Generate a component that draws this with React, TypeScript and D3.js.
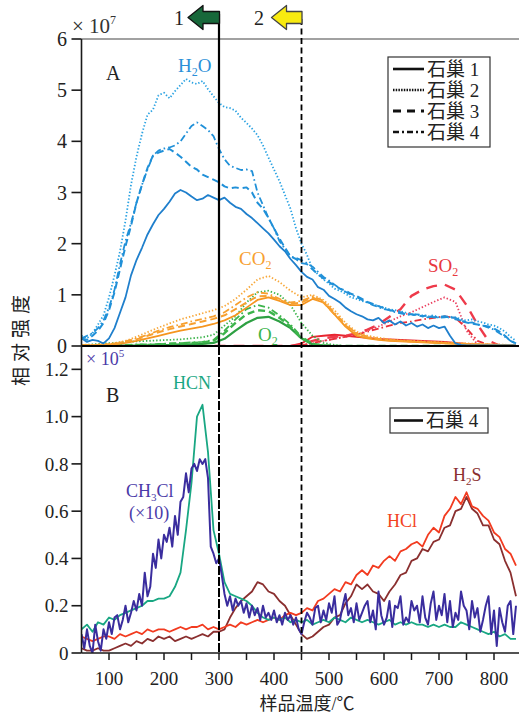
import React from "react";
import * as d3 from "d3";

// ---------- temperature grids (°C) ----------
const T10: number[] = d3.range(50, 850, 10); // 50..840
const T20: number[] = [...d3.range(50, 840, 20), 840]; // 50..830, 840
const T5: number[] = d3.range(50, 845, 5); // 50..840

// ---------- Panel A (×10^7) ----------
const H2O_1 = [
  0.15, 0.08, 0.12, 0.10, 0.05, 0.15, 0.35, 0.65, 0.95, 1.38,
  1.68, 1.92, 2.18, 2.38, 2.56, 2.68, 2.82, 2.98, 3.05, 3.00,
  2.92, 2.85, 2.88, 2.95, 2.90, 2.85, 2.90, 2.80, 2.72, 2.68,
  2.58, 2.50, 2.40, 2.30, 2.20, 2.08, 1.95, 1.85, 1.70, 1.58,
  1.45, 1.35, 1.30, 1.15, 1.10, 0.98, 0.92, 0.85, 0.75, 0.68,
  0.62, 0.58, 0.52, 0.50, 0.55, 0.45, 0.50, 0.42, 0.48, 0.40,
  0.45, 0.38, 0.42, 0.35, 0.40, 0.35, 0.38, 0.20, 0.05, 0.02,
  0.01, 0.01, 0.01, 0.01, 0.01, 0.01, 0.01, 0.01, 0.01, 0.01,
];
const H2O_2 = [
  0.20, 0.15, 0.25, 0.42, 0.60, 0.95, 1.38, 1.85, 2.45, 3.15,
  3.70, 4.15, 4.52, 4.62, 4.90, 4.95, 4.84, 4.98, 5.10, 5.22,
  5.15, 5.12, 5.18, 5.02, 4.88, 4.75, 4.67, 4.65, 4.60, 4.46,
  4.36, 4.25, 4.12, 3.92, 3.68, 3.45, 3.22, 2.95, 2.68, 2.30,
  2.00, 1.78, 1.50, 1.40, 1.30, 1.22, 1.12, 1.08, 1.02, 0.95,
  0.92, 0.88, 0.85, 0.82, 0.78, 0.75, 0.72, 0.70, 0.68, 0.65,
  0.62, 0.62, 0.60, 0.58, 0.60, 0.56, 0.58, 0.55, 0.56, 0.52,
  0.50, 0.52, 0.48, 0.46, 0.42, 0.40, 0.35, 0.28, 0.18, 0.10,
];
const H2O_3 = [
  0.15, 0.12, 0.20, 0.30, 0.45, 0.70, 1.05, 1.50, 1.95, 2.35,
  2.80, 3.15, 3.48, 3.72, 3.78, 3.82, 3.85, 3.78, 3.70, 3.60,
  3.50, 3.45, 3.35, 3.30, 3.25, 3.20, 3.12, 3.08, 3.10, 3.08,
  3.10, 3.00, 2.80, 2.68, 2.50, 2.30, 2.10, 1.92, 1.75, 1.70,
  1.62, 1.60, 1.50, 1.40, 1.32, 1.25, 1.18, 1.12, 1.08, 1.02,
  0.98, 0.92, 0.86, 0.82, 0.78, 0.74, 0.70, 0.68, 0.66, 0.62,
  0.62, 0.60, 0.58, 0.60, 0.56, 0.57, 0.58, 0.56, 0.55, 0.50,
  0.46, 0.44, 0.42, 0.40, 0.38, 0.34, 0.28, 0.20, 0.10, 0.05,
];
const H2O_4 = [
  0.15, 0.20, 0.25, 0.35, 0.50, 0.75, 1.10, 1.60, 2.05, 2.40,
  2.80, 3.15, 3.45, 3.72, 3.82, 3.86, 3.88, 3.92, 4.00, 4.15,
  4.30, 4.37, 4.30, 4.22, 4.10, 3.85, 3.65, 3.52, 3.48, 3.44,
  3.45, 3.42, 3.00, 2.75, 2.50, 2.30, 2.05, 1.90, 1.75, 1.72,
  1.68, 1.62, 1.55, 1.45, 1.35, 1.28, 1.20, 1.12, 1.06, 1.00,
  0.96, 0.90, 0.85, 0.80, 0.76, 0.72, 0.70, 0.66, 0.64, 0.62,
  0.60, 0.62, 0.58, 0.56, 0.58, 0.55, 0.56, 0.58, 0.52, 0.50,
  0.45, 0.46, 0.42, 0.40, 0.36, 0.32, 0.25, 0.18, 0.10, 0.05,
];

const CO2_1 = [
  0.01, 0.01, 0.02, 0.03, 0.06, 0.10, 0.15, 0.20, 0.25, 0.30,
  0.34, 0.38, 0.43, 0.50, 0.60, 0.75, 0.90, 0.95, 0.88, 0.80,
  0.80, 0.92, 0.85, 0.62, 0.38, 0.20, 0.15, 0.12, 0.10, 0.09,
  0.08, 0.07, 0.06, 0.05, 0.04, 0.03, 0.03, 0.02, 0.02, 0.02,
  0.01,
];
const CO2_2 = [
  0.01, 0.02, 0.03, 0.05, 0.10, 0.18, 0.27, 0.36, 0.44, 0.52,
  0.58, 0.64, 0.70, 0.78, 0.92, 1.10, 1.30, 1.37, 1.25, 1.08,
  0.95, 1.00, 0.90, 0.70, 0.45, 0.28, 0.20, 0.16, 0.13, 0.11,
  0.10, 0.09, 0.08, 0.07, 0.06, 0.05, 0.04, 0.03, 0.03, 0.02,
  0.02,
];
const CO2_3 = [
  0.01, 0.01, 0.02, 0.04, 0.08, 0.13, 0.20, 0.27, 0.33, 0.38,
  0.43, 0.48, 0.53, 0.60, 0.72, 0.85, 0.97, 0.98, 0.90, 0.82,
  0.85, 0.95, 0.85, 0.62, 0.40, 0.24, 0.17, 0.13, 0.11, 0.10,
  0.09, 0.08, 0.07, 0.06, 0.05, 0.04, 0.03, 0.03, 0.02, 0.02,
  0.01,
];
const CO2_4 = [
  0.01, 0.02, 0.03, 0.05, 0.09, 0.15, 0.22, 0.30, 0.37, 0.42,
  0.48, 0.53, 0.58, 0.66, 0.80, 0.95, 1.05, 1.02, 0.92, 0.85,
  0.88, 0.97, 0.88, 0.65, 0.42, 0.25, 0.18, 0.14, 0.12, 0.10,
  0.09, 0.08, 0.07, 0.06, 0.05, 0.04, 0.03, 0.03, 0.02, 0.02,
  0.01,
];

const O2_1 = [
  0, 0, 0, 0, 0.01, 0.01, 0.01, 0.02, 0.02, 0.03,
  0.03, 0.04, 0.06, 0.14, 0.30, 0.45, 0.55, 0.57, 0.48, 0.35,
  0.15, 0.03, 0.01, 0, 0, 0, 0, 0, 0, 0,
  0, 0, 0, 0, 0, 0, 0, 0, 0, 0,
  0,
];
const O2_2 = [
  0.02, 0.03, 0.05, 0.06, 0.08, 0.09, 0.10, 0.11, 0.12, 0.13,
  0.15, 0.17, 0.22, 0.40, 0.58, 0.85, 1.05, 1.08, 1.00, 0.80,
  0.45, 0.20, 0.06, 0.02, 0, 0, 0, 0, 0, 0,
  0, 0, 0, 0, 0, 0, 0, 0, 0, 0,
  0,
];
const O2_3 = [
  0, 0, 0, 0.01, 0.01, 0.02, 0.02, 0.03, 0.04, 0.05,
  0.06, 0.07, 0.10, 0.25, 0.45, 0.62, 0.70, 0.68, 0.55, 0.38,
  0.15, 0.04, 0.01, 0, 0, 0, 0, 0, 0, 0,
  0, 0, 0, 0, 0, 0, 0, 0, 0, 0,
  0,
];
const O2_4 = [
  0, 0, 0.01, 0.01, 0.02, 0.03, 0.03, 0.04, 0.05, 0.06,
  0.07, 0.08, 0.12, 0.30, 0.52, 0.72, 0.80, 0.75, 0.60, 0.42,
  0.18, 0.05, 0.01, 0, 0, 0, 0, 0, 0, 0,
  0, 0, 0, 0, 0, 0, 0, 0, 0, 0,
  0,
];

const SO2_1 = [
  0, 0, 0, 0, 0, 0, 0, 0, 0, 0,
  0, 0, 0, 0, 0, 0, 0, 0, 0, 0,
  0.05, 0.18, 0.20, 0.22, 0.20, 0.18, 0.16, 0.14, 0.13, 0.12,
  0.11, 0.10, 0.09, 0.08, 0.06, 0.04, 0.02, 0.01, 0, 0,
  0,
];
const SO2_2 = [
  0, 0, 0, 0, 0, 0, 0, 0, 0, 0,
  0, 0, 0, 0, 0, 0, 0, 0, 0, 0,
  0.01, 0.05, 0.10, 0.14, 0.18, 0.22, 0.30, 0.38, 0.48, 0.58,
  0.66, 0.76, 0.86, 0.95, 0.86, 0.30, 0.03, 0, 0, 0,
  0,
];
const SO2_3 = [
  0, 0, 0, 0, 0, 0, 0, 0, 0, 0,
  0, 0, 0, 0, 0, 0, 0, 0, 0, 0,
  0.02, 0.10, 0.15, 0.18, 0.20, 0.25, 0.32, 0.42, 0.57, 0.72,
  0.98, 1.10, 1.17, 1.20, 1.10, 0.80, 0.42, 0.10, 0.01, 0,
  0,
];
const SO2_4 = [
  0, 0, 0, 0, 0, 0, 0, 0, 0, 0,
  0, 0, 0, 0, 0, 0, 0, 0, 0, 0,
  0.01, 0.06, 0.10, 0.14, 0.18, 0.22, 0.28, 0.34, 0.40, 0.45,
  0.48, 0.52, 0.55, 0.58, 0.55, 0.35, 0.10, 0.02, 0, 0,
  0,
];

// ---------- Panel B (×10^5) ----------
const HCN = [
  0.10, 0.12, 0.09, 0.13, 0.12, 0.15, 0.14, 0.16, 0.17, 0.18,
  0.19, 0.20, 0.22, 0.22, 0.23, 0.23, 0.24, 0.28, 0.34, 0.52,
  0.72, 1.00, 1.05, 0.85, 0.52, 0.42, 0.30, 0.25, 0.24, 0.23,
  0.22, 0.20, 0.17, 0.15, 0.14, 0.15, 0.14, 0.15, 0.13, 0.14,
  0.13, 0.14, 0.12, 0.13, 0.14, 0.13, 0.15, 0.14, 0.13, 0.15,
  0.14, 0.13, 0.14, 0.13, 0.12, 0.13, 0.14, 0.12, 0.13, 0.12,
  0.13, 0.12, 0.12, 0.11, 0.12, 0.11, 0.12, 0.11, 0.11, 0.13,
  0.12, 0.11, 0.10, 0.09, 0.08, 0.09, 0.07, 0.08, 0.06, 0.06,
];
const HCl = [
  0.07, 0.06, 0.05, 0.06, 0.07, 0.07, 0.06, 0.08, 0.07, 0.08,
  0.09, 0.08, 0.10, 0.09, 0.10, 0.10, 0.09, 0.10, 0.11, 0.10,
  0.11, 0.11, 0.12, 0.10, 0.11, 0.10, 0.11, 0.12, 0.11, 0.13,
  0.12, 0.13, 0.14, 0.13, 0.14, 0.15, 0.14, 0.16, 0.17, 0.16,
  0.17, 0.19, 0.18, 0.22, 0.23, 0.25, 0.27, 0.26, 0.30, 0.29,
  0.33, 0.35, 0.33, 0.37, 0.36, 0.39, 0.41, 0.39, 0.43, 0.44,
  0.46, 0.47, 0.45, 0.50, 0.53, 0.51, 0.58, 0.61, 0.66, 0.63,
  0.68, 0.62, 0.61, 0.58, 0.56, 0.51, 0.49, 0.44, 0.42, 0.37,
];
const H2S = [
  0.02, 0.01, 0.01, 0.02, 0.01, 0.01, 0.02, 0.03, 0.04, 0.03,
  0.05, 0.04, 0.06, 0.05, 0.07, 0.06, 0.07, 0.05, 0.06, 0.07,
  0.06, 0.07, 0.08, 0.07, 0.09, 0.09, 0.10, 0.15, 0.19, 0.22,
  0.24, 0.26, 0.30, 0.29, 0.26, 0.25, 0.22, 0.20, 0.16, 0.12,
  0.08, 0.06, 0.07, 0.09, 0.11, 0.12, 0.15, 0.16, 0.21, 0.24,
  0.29, 0.27, 0.29, 0.26, 0.25, 0.22, 0.26, 0.29, 0.33, 0.34,
  0.39, 0.40, 0.44, 0.43, 0.47, 0.48, 0.53, 0.54, 0.60, 0.61,
  0.66, 0.61, 0.59, 0.54, 0.54, 0.48, 0.46, 0.39, 0.34, 0.24,
];
const CH3Cl = [
  0.08, 0.02, 0.10, 0.03, 0.00, 0.12, 0.05, 0.01, 0.10, 0.06,
  0.13, 0.08, 0.15, 0.16, 0.10, 0.14, 0.20, 0.13, 0.17, 0.22,
  0.18, 0.25, 0.20, 0.34, 0.24, 0.28, 0.42, 0.36, 0.48, 0.40,
  0.50, 0.47, 0.53, 0.45, 0.58, 0.50, 0.64, 0.66, 0.76, 0.68,
  0.78, 0.80, 0.77, 0.82, 0.80, 0.82, 0.74, 0.45, 0.42, 0.38,
  0.40, 0.33, 0.25, 0.20, 0.24, 0.18, 0.23, 0.20, 0.22, 0.17,
  0.21, 0.15, 0.20, 0.16, 0.19, 0.14, 0.20, 0.15, 0.17, 0.14,
  0.18, 0.13, 0.16, 0.12, 0.17, 0.14, 0.16, 0.12, 0.15, 0.10,
  0.08, 0.13, 0.17, 0.15, 0.12, 0.19, 0.20, 0.13, 0.18, 0.14,
  0.21, 0.17, 0.24, 0.12, 0.14, 0.20, 0.25, 0.16, 0.19, 0.13,
  0.21, 0.14, 0.17, 0.20, 0.22, 0.13, 0.18, 0.10, 0.26, 0.16,
  0.12, 0.15, 0.22, 0.11, 0.20, 0.19, 0.24, 0.12, 0.15, 0.13,
  0.22, 0.18, 0.20, 0.13, 0.24, 0.15, 0.12, 0.21, 0.26, 0.14,
  0.20, 0.16, 0.25, 0.13, 0.22, 0.11, 0.17, 0.14, 0.26, 0.20,
  0.18, 0.10, 0.22, 0.15, 0.19, 0.09, 0.14, 0.20, 0.24, 0.08,
  0.18, 0.03, 0.19, 0.13, 0.09, 0.20, 0.22, 0.08, 0.20,
];

const yTicksA = [0, 1, 2, 3, 4, 5, 6];
const yTicksB = [0, 0.2, 0.4, 0.6, 0.8, 1.0, 1.2];
const xTickMinor = [100, 150, 200, 250, 300, 350, 400, 450, 500, 550, 600, 650, 700, 750, 800];
const xTickLabels = [100, 200, 300, 400, 500, 600, 700, 800];
const legendLabels = ["石巢 1", "石巢 2", "石巢 3", "石巢 4"];

// ---------- layout ----------
const W = 519;
const H = 716;
const SERIF = "'Liberation Serif', 'Times New Roman', serif";
const MIX = "'Liberation Serif', 'Noto Sans CJK SC', serif";
const CJK = "'Noto Sans CJK SC', sans-serif";

const x = d3.scaleLinear().domain([50, 850]).range([81.5, 521.5]);
const yA = d3.scaleLinear().domain([0, 6]).range([346, 39]);
const yB = d3.scaleLinear().domain([0, 1.3]).range([653, 345.7]);

const DASH: Record<string, string | undefined> = {
  solid: undefined,
  dotted: "1.4,2",
  dashed: "7,4",
  dashdot: "7,3,1.6,3",
};
const WIDTH: Record<string, number> = { solid: 1.8, dotted: 1.8, dashed: 2, dashdot: 1.8 };

type Series = { data: number[]; T: number[]; color: string; style: string; width?: number; dash?: string };

const topSeries: Series[] = [
  { data: SO2_1, T: T20, color: "#e8252f", style: "solid" },
  { data: SO2_2, T: T20, color: "#ea4060", style: "dotted" },
  { data: SO2_3, T: T20, color: "#ee3a4a", style: "dashed", width: 2.4, dash: "11,8" },
  { data: SO2_4, T: T20, color: "#e8303a", style: "dashdot" },
  { data: O2_1, T: T20, color: "#2ea043", style: "solid", width: 2.2 },
  { data: O2_2, T: T20, color: "#3cb44b", style: "dotted" },
  { data: O2_3, T: T20, color: "#3cb44b", style: "dashed", width: 2.4 },
  { data: O2_4, T: T20, color: "#3cb44b", style: "dashdot" },
  { data: CO2_1, T: T20, color: "#f5951f", style: "solid" },
  { data: CO2_2, T: T20, color: "#f8a83a", style: "dotted" },
  { data: CO2_3, T: T20, color: "#f7a030", style: "dashed" },
  { data: CO2_4, T: T20, color: "#f7a030", style: "dashdot" },
  { data: H2O_1, T: T10, color: "#1f7fcc", style: "solid" },
  { data: H2O_2, T: T10, color: "#2aa2e2", style: "dotted" },
  { data: H2O_3, T: T10, color: "#2090d8", style: "dashed" },
  { data: H2O_4, T: T10, color: "#2090d8", style: "dashdot" },
];

const bottomSeries: Series[] = [
  { data: H2S, T: T10, color: "#8a2f2f", style: "solid" },
  { data: HCl, T: T10, color: "#f23b20", style: "solid" },
  { data: HCN, T: T10, color: "#19a783", style: "solid" },
  { data: CH3Cl, T: T5, color: "#3a2d9e", style: "solid", width: 2 },
];

function pathFor(s: Series, y: d3.ScaleLinear<number, number>) {
  const gen = d3
    .line<number>()
    .x((_, i) => x(s.T[i]))
    .y((v) => y(v));
  const n = Math.min(s.data.length, s.T.length);
  return gen(s.data.slice(0, n)) || "";
}

export default function App() {
  const axisColor = "#1a1a1a";
  return (
    <svg
      width={W}
      height={H}
      style={{ position: "absolute", left: 0, top: 0, background: "#fff" }}
      xmlns="http://www.w3.org/2000/svg"
    >
      <defs>
        <clipPath id="clipA">
          <rect x={81.5} y={39} width={W - 81.5} height={307} />
        </clipPath>
        <clipPath id="clipB">
          <rect x={81.5} y={347} width={W - 81.5} height={306} />
        </clipPath>
      </defs>
      <rect x={0} y={0} width={W} height={H} fill="#fff" />

      {/* Panel A lines */}
      <g clipPath="url(#clipA)" fill="none" strokeLinejoin="round">
        {topSeries.map((s, i) => (
          <path
            key={i}
            d={pathFor(s, yA)}
            stroke={s.color}
            strokeWidth={s.width ?? WIDTH[s.style]}
            strokeDasharray={s.dash ?? DASH[s.style]}
          />
        ))}
      </g>

      {/* Panel B lines */}
      <g clipPath="url(#clipB)" fill="none" strokeLinejoin="round">
        {bottomSeries.map((s, i) => (
          <path
            key={i}
            d={pathFor(s, yB)}
            stroke={s.color}
            strokeWidth={s.width ?? WIDTH[s.style]}
          />
        ))}
      </g>

      {/* frame lines */}
      <line x1={81.5} x2={W} y1={39} y2={39} stroke="#444" strokeWidth={1.2} />
      <line x1={81.5} x2={W} y1={346} y2={346} stroke="#000" strokeWidth={2.2} />
      <line x1={81.5} x2={W} y1={653} y2={653} stroke={axisColor} strokeWidth={1.6} />
      <line x1={81.5} x2={81.5} y1={39} y2={653} stroke={axisColor} strokeWidth={1.6} />

      {/* Y ticks A */}
      {yTicksA.map((t) => (
        <g key={"ya" + t}>
          <line x1={71.5} x2={81.5} y1={yA(t)} y2={yA(t)} stroke={axisColor} strokeWidth={1.6} />
          <text x={67} y={yA(t)} dy="0.35em" textAnchor="end" fontFamily={SERIF} fontSize={20} fill="#222">
            {t}
          </text>
        </g>
      ))}
      {/* Y ticks B */}
      {yTicksB.map((t) => (
        <g key={"yb" + t}>
          <line x1={71.5} x2={81.5} y1={yB(t)} y2={yB(t)} stroke={axisColor} strokeWidth={1.6} />
          <text x={68.5} y={yB(t)} dy="0.35em" textAnchor="end" fontFamily={SERIF} fontSize={19} fill="#222">
            {t === 0 ? "0" : t.toFixed(1)}
          </text>
        </g>
      ))}
      {/* X ticks */}
      {xTickMinor.map((t) => (
        <line key={"xt" + t} x1={x(t)} x2={x(t)} y1={653} y2={660} stroke={axisColor} strokeWidth={1.5} />
      ))}
      {xTickLabels.map((t) => (
        <text key={"xl" + t} x={x(t)} y={685} textAnchor="middle" fontFamily={SERIF} fontSize={19} fill="#222">
          {t}
        </text>
      ))}

      {/* axis titles */}
      <text
        transform="translate(28,338) rotate(-90)"
        textAnchor="middle"
        fontFamily={CJK}
        fontSize={19}
        letterSpacing={5}
        fill="#222"
      >
        相对强度
      </text>
      <text x={307} y={710} textAnchor="middle" fontFamily={MIX} fontSize={18} fill="#222">
        样品温度/℃
      </text>

      {/* exponents */}
      <text x={72} y={33} fontFamily={SERIF} fontSize={21} fill="#333">
        × 10<tspan fontSize={12} dy={-9}>7</tspan>
      </text>
      <text x={86} y={365} fontFamily={SERIF} fontSize={18} fill="#4a3aa8">
        × 10<tspan fontSize={11} dy={-8}>5</tspan>
      </text>

      {/* panel letters */}
      <text x={106} y={80} fontFamily={SERIF} fontSize={20} fill="#222">A</text>
      <text x={106} y={402} fontFamily={SERIF} fontSize={20} fill="#222">B</text>

      {/* species labels */}
      <text x={178} y={72} fontFamily={SERIF} fontSize={19} fill="#2a8fd8">
        H<tspan fontSize={12} dy={4}>2</tspan><tspan dy={-4}>O</tspan>
      </text>
      <text x={239} y={265} fontFamily={SERIF} fontSize={19} fill="#f7a030">
        CO<tspan fontSize={12} dy={4}>2</tspan>
      </text>
      <text x={258} y={341} fontFamily={SERIF} fontSize={19} fill="#3cb44b">
        O<tspan fontSize={12} dy={4}>2</tspan>
      </text>
      <text x={428} y={272} fontFamily={SERIF} fontSize={19} fill="#e8383f">
        SO<tspan fontSize={12} dy={4}>2</tspan>
      </text>
      <text x={173} y={389} fontFamily={SERIF} fontSize={18} fill="#19a783">HCN</text>
      <text x={126} y={497} fontFamily={SERIF} fontSize={18} fill="#4a3aa8">
        CH<tspan fontSize={11} dy={4}>3</tspan><tspan dy={-4}>Cl</tspan>
      </text>
      <text x={129} y={519} fontFamily={SERIF} fontSize={18} fill="#4a3aa8">(×10)</text>
      <text x={387} y={527} fontFamily={SERIF} fontSize={18} fill="#f2441e">HCl</text>
      <text x={453} y={481} fontFamily={SERIF} fontSize={18} fill="#8a2f2f">
        H<tspan fontSize={11} dy={4}>2</tspan><tspan dy={-4}>S</tspan>
      </text>

      {/* legend A */}
      <rect x={388} y={57} width={102} height={90} fill="#fff" stroke="#333" strokeWidth={1.2} />
      {legendLabels.map((lab, i) => {
        const yy = 69 + i * 21;
        const dashes = [undefined, "1.5,1.2", "8,6", "6,3,2,3"];
        const widths = [2.6, 2.4, 3, 2.4];
        return (
          <g key={lab}>
            <line
              x1={393}
              x2={424}
              y1={yy}
              y2={yy}
              stroke="#111"
              strokeWidth={widths[i]}
              strokeDasharray={dashes[i]}
            />
            <text x={427} y={yy} dy="0.36em" fontFamily={MIX} fontSize={19} fill="#222">
              {lab}
            </text>
          </g>
        );
      })}

      {/* legend B */}
      <rect x={390} y={408} width={98} height={25} fill="#fff" stroke="#333" strokeWidth={1.2} />
      <line x1={394} x2={423} y1={420.5} y2={420.5} stroke="#111" strokeWidth={2.6} />
      <text x={426} y={420.5} dy="0.36em" fontFamily={MIX} fontSize={19} fill="#222">
        石巢 4
      </text>

      {/* reference temperature lines */}
      <line x1={x(300)} x2={x(300)} y1={14} y2={346} stroke="#000" strokeWidth={2.2} />
      <line x1={x(300)} x2={x(300)} y1={346} y2={653} stroke="#000" strokeWidth={2} strokeDasharray="9,2" />
      <line x1={x(450)} x2={x(450)} y1={19} y2={653} stroke="#000" strokeWidth={1.8} strokeDasharray="6,3.5" />

      {/* arrows */}
      <path
        d={`M${x(300) - 31},17.5 L${x(300) - 16},5.5 L${x(300) - 16},11.5 L${x(300) + 0.5},11.5 L${x(300) + 0.5},23.5 L${x(300) - 16},23.5 L${x(300) - 16},29.5 Z`}
        fill="#17683a"
        stroke="#111"
        strokeWidth={1.3}
        strokeLinejoin="round"
      />
      <path
        d={`M${x(450) - 30},17.5 L${x(450) - 15},5.5 L${x(450) - 15},11.5 L${x(450) + 0.5},11.5 L${x(450) + 0.5},23.5 L${x(450) - 15},23.5 L${x(450) - 15},29.5 Z`}
        fill="#f8ea10"
        stroke="#444"
        strokeWidth={1.3}
        strokeLinejoin="round"
      />
      <text x={179} y={25} textAnchor="middle" fontFamily={SERIF} fontSize={20} fill="#222">1</text>
      <text x={259} y={25} textAnchor="middle" fontFamily={SERIF} fontSize={20} fill="#222">2</text>
    </svg>
  );
}
